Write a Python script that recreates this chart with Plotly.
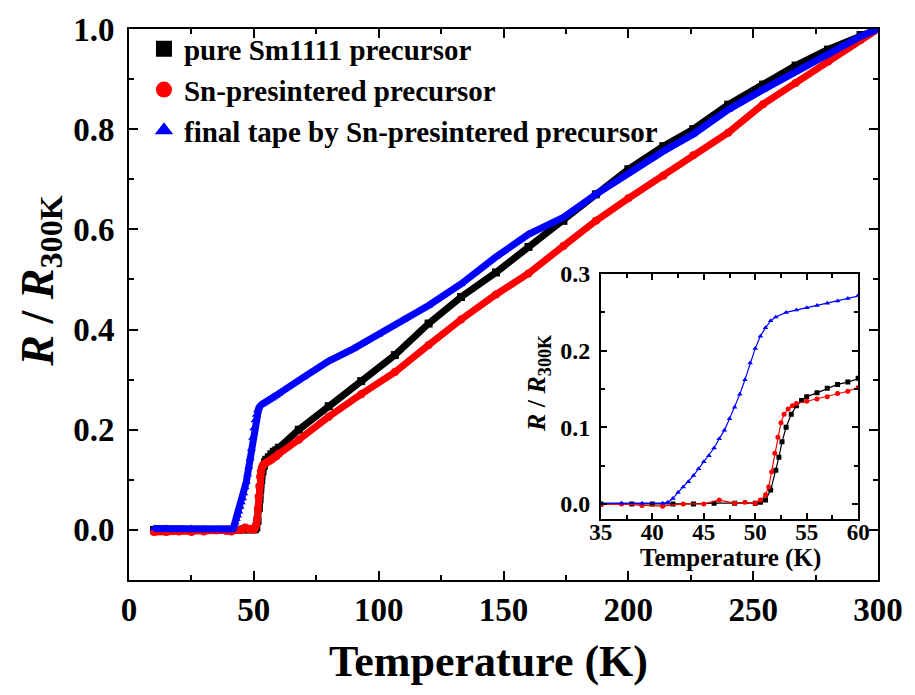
import plotly.graph_objects as go

# ---------------- data ----------------
black_T = [10, 20, 30, 35, 38, 40, 42, 44, 46, 48, 50, 50.5, 51, 51.5, 52, 52.3, 52.6, 53, 53.5, 54, 54.5, 55,
           56, 57, 58, 59, 60, 68, 80, 93, 106.5, 120, 133, 147, 160, 174, 187, 200, 214, 226, 240, 254,
           267, 280, 293, 300]
black_R = [0.0, 0.0, 0.0, 0.0, 0.0, 0.0, 0.0, 0.0, 0.001, 0.001, 0.001, 0.002, 0.005, 0.018, 0.044, 0.061,
           0.081, 0.100, 0.117, 0.128, 0.135, 0.140, 0.145, 0.151, 0.156, 0.159, 0.164, 0.200, 0.247, 0.297,
           0.349, 0.412, 0.465, 0.514, 0.565, 0.617, 0.670, 0.720, 0.766, 0.800, 0.849, 0.889, 0.927, 0.959,
           0.988, 1.0]

red_T = [10, 15, 20, 25, 30, 35, 37, 39, 41, 43, 45, 46.5, 48, 49, 50, 50.5, 51, 51.3, 51.6, 51.9, 52.2,
         52.5, 52.8, 53.2, 53.6, 54, 55, 56, 57, 58, 59, 60, 68, 80, 93, 106.5, 120, 133, 147, 160, 174,
         187, 200, 214, 226, 240, 254, 267, 280, 293, 300]
red_R = [-0.004, -0.004, -0.003, -0.004, -0.003, -0.001, 0.0, -0.002, -0.003, 0.0, 0.0, 0.005, 0.001, 0.002,
         0.001, 0.005, 0.012, 0.022, 0.042, 0.066, 0.087, 0.106, 0.117, 0.124, 0.128, 0.131, 0.134, 0.137,
         0.140, 0.144, 0.147, 0.152, 0.180, 0.226, 0.271, 0.315, 0.369, 0.420, 0.470, 0.512, 0.567, 0.617,
         0.662, 0.707, 0.748, 0.793, 0.850, 0.892, 0.935, 0.978, 1.0]

blue_T = [10, 15, 20, 25, 30, 35, 37, 39, 41, 41.5, 42, 42.5, 43, 43.5, 44, 44.5, 45, 45.5, 46, 46.5, 47,
          47.5, 48, 48.5, 49, 49.5, 50, 50.5, 51, 51.5, 52, 53, 54, 55, 56, 57, 58, 59, 60, 70, 80, 90, 100,
          110, 120, 133, 147, 160, 174, 187, 200, 214, 226, 240, 254, 267, 280, 293, 300]
blue_R = [0.003, 0.003, 0.002, 0.003, 0.002, 0.001, 0.001, 0.001, 0.001, 0.002, 0.007, 0.015, 0.022, 0.029,
          0.037, 0.046, 0.055, 0.063, 0.073, 0.085, 0.096, 0.111, 0.126, 0.143, 0.162, 0.184, 0.203, 0.219,
          0.230, 0.239, 0.244, 0.250, 0.253, 0.256, 0.259, 0.262, 0.265, 0.268, 0.272, 0.305, 0.337, 0.362,
          0.390, 0.420, 0.448, 0.491, 0.545, 0.590, 0.624, 0.670, 0.713, 0.756, 0.790, 0.839, 0.879, 0.915,
          0.949, 0.985, 1.0]

series_names = ["pure Sm1111 precursor", "Sn-presintered precursor", "final tape by Sn-presintered precursor"]
series_colors = ["#000000", "#ff0000", "#0000ff"]
series_symbols = ["square", "circle", "triangle-up"]

main_xticks = [0, 50, 100, 150, 200, 250, 300]
main_yticks = [0.0, 0.2, 0.4, 0.6, 0.8, 1.0]
inset_xticks = [35, 40, 45, 50, 55, 60]
inset_yticks = [0.0, 0.1, 0.2, 0.3]

x_title = "Temperature (K)"
y_title = "<i>R</i> / <i>R</i><sub>300K</sub>"

FONT = "Liberation Serif, Times New Roman, serif"
series = [(black_T, black_R), (red_T, red_R), (blue_T, blue_R)]

fig = go.Figure()

# main traces
for (T, R), c, s in zip(series, series_colors, series_symbols):
    fig.add_trace(go.Scatter(x=T, y=R, mode="lines+markers", showlegend=False,
                             line=dict(color=c, width=7),
                             marker=dict(symbol=s, size=8, color=c),
                             xaxis="x", yaxis="y"))

# inset traces
for (T, R), c, s in zip(series, series_colors, series_symbols):
    fig.add_trace(go.Scatter(x=T, y=R, mode="lines+markers", showlegend=False,
                             line=dict(color=c, width=1.2),
                             marker=dict(symbol=s, size=5, color=c),
                             xaxis="x2", yaxis="y2"))

# legend entries
for n, c, s in zip(series_names, series_colors, series_symbols):
    fig.add_trace(go.Scatter(x=[None], y=[None], mode="markers", name=n,
                             marker=dict(symbol=s, size=20, color=c)))

axis_common = dict(showline=True, linecolor="black", linewidth=2, mirror="allticks",
                   ticks="inside", tickcolor="black", tickwidth=2, showgrid=False, zeroline=False)
inset_common = {**axis_common, "linewidth": 1.5, "tickwidth": 1.5}

fig.update_layout(
    width=915, height=695,
    margin=dict(l=129, r=32, t=27, b=115),
    paper_bgcolor="white", plot_bgcolor="white",
    font=dict(family=FONT, color="black"),
    showlegend=True,
    legend=dict(x=0.02, y=1.01, xanchor="left", yanchor="top", bgcolor="rgba(0,0,0,0)",
                font=dict(family=FONT, size=29, weight="bold"), tracegroupgap=0, itemwidth=30),
    xaxis=dict(range=[0, 300], tickvals=main_xticks, ticklen=9,
               minor=dict(dtick=25, ticklen=5, ticks="inside", tickcolor="black", tickwidth=2),
               tickfont=dict(size=33, weight="bold"), ticklabelstandoff=-1,
               domain=[0, 1], anchor="y", **axis_common),
    yaxis=dict(range=[-0.1, 1.0], tickvals=main_yticks, tickformat=".1f", ticklen=9,
               minor=dict(dtick=0.1, ticklen=5, ticks="inside", tickcolor="black", tickwidth=2),
               tickfont=dict(size=33, weight="bold"), ticklabelstandoff=6,
               domain=[0, 1], anchor="x", **axis_common),
    xaxis2=dict(range=[35, 60], tickvals=inset_xticks, ticklen=6,
                minor=dict(dtick=2.5, ticklen=4, ticks="inside", tickcolor="black", tickwidth=1.5),
                tickfont=dict(size=23, weight="bold"), ticklabelstandoff=-9,
                domain=[0.630, 0.9735], anchor="y2", **inset_common),
    yaxis2=dict(range=[-0.02, 0.3], tickvals=inset_yticks, tickformat=".1f", ticklen=6,
                minor=dict(dtick=0.05, ticklen=4, ticks="inside", tickcolor="black", tickwidth=1.5),
                tickfont=dict(size=24, weight="bold"), ticklabelstandoff=4,
                domain=[0.1103, 0.5552], anchor="x2", **inset_common),
    annotations=[
        dict(text=x_title, xref="paper", yref="paper", x=0.480, y=-0.148, showarrow=False,
             xanchor="center", yanchor="middle", font=dict(size=44, weight="bold")),
        dict(text=y_title, xref="paper", yref="paper", x=-0.118, y=0.5425, showarrow=False,
             textangle=-90, xanchor="center", yanchor="middle", font=dict(size=46, weight="bold")),
        dict(text=x_title, xref="paper", yref="paper", x=0.8035, y=0.040, showarrow=False,
             xanchor="center", yanchor="middle", font=dict(size=25, weight="bold")),
        dict(text=y_title, xref="paper", yref="paper", x=0.5464, y=0.356, showarrow=False,
             textangle=-90, xanchor="center", yanchor="middle", font=dict(size=26, weight="bold")),
    ],
)

fig.write_html("out.html")
